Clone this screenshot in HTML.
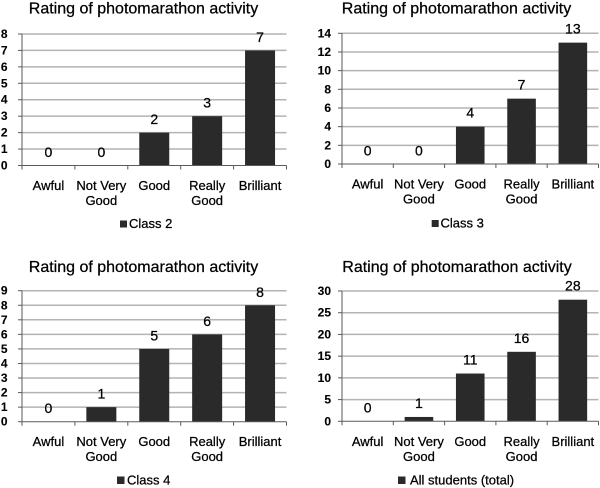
<!DOCTYPE html>
<html><head><meta charset="utf-8"><style>
html,body{margin:0;padding:0;background:#fff;}
svg{display:block;}
text{font-family:"Liberation Sans",Arial,sans-serif;fill:#000;stroke:#000;stroke-width:0.25;}
.t{font-size:16px;text-anchor:middle;}
.yl{font-size:12px;font-weight:bold;text-anchor:end;stroke-width:0.1;}
.cl{font-size:13px;text-anchor:middle;}
.vl{font-size:14px;text-anchor:middle;}
.lg{font-size:13px;}
.g{stroke:#b3b3b3;stroke-width:1.5;}
.ax{stroke:#5a5a5a;stroke-width:1;}
.b{fill:#2a2a2a;}
</style></head><body>
<svg width="600" height="488" viewBox="0 0 600 488" xmlns="http://www.w3.org/2000/svg">
<rect width="600" height="488" fill="#fff"/>

<!-- Chart A -->
<g>
<text class="t" x="143.5" y="13.5">Rating of photomarathon activity</text>
<line class="g" x1="22" y1="149.06" x2="286.5" y2="149.06"/>
<line class="g" x1="22" y1="132.62" x2="286.5" y2="132.62"/>
<line class="g" x1="22" y1="116.18" x2="286.5" y2="116.18"/>
<line class="g" x1="22" y1="99.74" x2="286.5" y2="99.74"/>
<line class="g" x1="22" y1="83.3" x2="286.5" y2="83.3"/>
<line class="g" x1="22" y1="66.86" x2="286.5" y2="66.86"/>
<line class="g" x1="22" y1="50.42" x2="286.5" y2="50.42"/>
<line class="g" x1="22" y1="33.98" x2="286.5" y2="33.98"/>
<rect class="b" x="139.25" y="132.62" width="30" height="32.88"/>
<rect class="b" x="192.15" y="116.18" width="30" height="49.32"/>
<rect class="b" x="245.05" y="50.42" width="30" height="115.08"/>
<line class="ax" x1="22" y1="33.98" x2="22" y2="165.5"/>
<line class="ax" x1="22" y1="165.5" x2="286.5" y2="165.5"/>
<g class="ax">
<line x1="18" y1="165.5" x2="22" y2="165.5"/><line x1="18" y1="149.06" x2="22" y2="149.06"/><line x1="18" y1="132.62" x2="22" y2="132.62"/><line x1="18" y1="116.18" x2="22" y2="116.18"/><line x1="18" y1="99.74" x2="22" y2="99.74"/><line x1="18" y1="83.3" x2="22" y2="83.3"/><line x1="18" y1="66.86" x2="22" y2="66.86"/><line x1="18" y1="50.42" x2="22" y2="50.42"/><line x1="18" y1="33.98" x2="22" y2="33.98"/>
<line x1="22" y1="165.5" x2="22" y2="169.5"/><line x1="74.9" y1="165.5" x2="74.9" y2="169.5"/><line x1="127.8" y1="165.5" x2="127.8" y2="169.5"/><line x1="180.7" y1="165.5" x2="180.7" y2="169.5"/><line x1="233.6" y1="165.5" x2="233.6" y2="169.5"/><line x1="286.5" y1="165.5" x2="286.5" y2="169.5"/>
</g>
<text class="yl" x="7.5" y="169.5">0</text><text class="yl" x="7.5" y="153.06">1</text><text class="yl" x="7.5" y="136.62">2</text><text class="yl" x="7.5" y="120.18">3</text><text class="yl" x="7.5" y="103.74">4</text><text class="yl" x="7.5" y="87.3">5</text><text class="yl" x="7.5" y="70.86">6</text><text class="yl" x="7.5" y="54.42">7</text><text class="yl" x="7.5" y="37.98">8</text>
<text class="vl" x="48.45" y="157">0</text><text class="vl" x="101.35" y="157">0</text><text class="vl" x="154.25" y="124.1">2</text><text class="vl" x="207.15" y="107.7">3</text><text class="vl" x="260.05" y="41.9">7</text>
<text class="cl" x="48.45" y="190">Awful</text>
<text class="cl" x="101.35" y="190">Not Very</text><text class="cl" x="101.35" y="205">Good</text>
<text class="cl" x="154.25" y="190">Good</text>
<text class="cl" x="207.15" y="190">Really</text><text class="cl" x="207.15" y="205">Good</text>
<text class="cl" x="260.05" y="190">Brilliant</text>
<rect class="b" x="120" y="220.5" width="7" height="7"/>
<text class="lg" x="129" y="228">Class 2</text>
</g>

<!-- Chart B -->
<g>
<text class="t" x="456.5" y="13.5">Rating of photomarathon activity</text>
<line class="g" x1="342" y1="145.33" x2="598.5" y2="145.33"/>
<line class="g" x1="342" y1="126.66" x2="598.5" y2="126.66"/>
<line class="g" x1="342" y1="107.99" x2="598.5" y2="107.99"/>
<line class="g" x1="342" y1="89.31" x2="598.5" y2="89.31"/>
<line class="g" x1="342" y1="70.64" x2="598.5" y2="70.64"/>
<line class="g" x1="342" y1="51.97" x2="598.5" y2="51.97"/>
<line class="g" x1="342" y1="33.3" x2="598.5" y2="33.3"/>
<rect class="b" x="455.95" y="126.66" width="28.6" height="37.34"/>
<rect class="b" x="507.25" y="98.65" width="28.6" height="65.35"/>
<rect class="b" x="558.55" y="42.63" width="28.6" height="121.37"/>
<line class="ax" x1="342" y1="33.3" x2="342" y2="164"/>
<line class="ax" x1="342" y1="164" x2="598.5" y2="164"/>
<g class="ax">
<line x1="338" y1="164" x2="342" y2="164"/><line x1="338" y1="145.33" x2="342" y2="145.33"/><line x1="338" y1="126.66" x2="342" y2="126.66"/><line x1="338" y1="107.99" x2="342" y2="107.99"/><line x1="338" y1="89.31" x2="342" y2="89.31"/><line x1="338" y1="70.64" x2="342" y2="70.64"/><line x1="338" y1="51.97" x2="342" y2="51.97"/><line x1="338" y1="33.3" x2="342" y2="33.3"/>
<line x1="342" y1="164" x2="342" y2="168"/><line x1="393.3" y1="164" x2="393.3" y2="168"/><line x1="444.6" y1="164" x2="444.6" y2="168"/><line x1="495.9" y1="164" x2="495.9" y2="168"/><line x1="547.2" y1="164" x2="547.2" y2="168"/><line x1="598.5" y1="164" x2="598.5" y2="168"/>
</g>
<text class="yl" x="331" y="168">0</text><text class="yl" x="331" y="149.33">2</text><text class="yl" x="331" y="130.66">4</text><text class="yl" x="331" y="111.99">6</text><text class="yl" x="331" y="93.31">8</text><text class="yl" x="331" y="74.64">10</text><text class="yl" x="331" y="55.97">12</text><text class="yl" x="331" y="37.3">14</text>
<text class="vl" x="367.65" y="155.5">0</text><text class="vl" x="418.95" y="155.5">0</text><text class="vl" x="470.25" y="117.66">4</text><text class="vl" x="521.55" y="89.65">7</text><text class="vl" x="572.85" y="33.63">13</text>
<text class="cl" x="367.65" y="188.5">Awful</text>
<text class="cl" x="418.95" y="188.5">Not Very</text><text class="cl" x="418.95" y="203.5">Good</text>
<text class="cl" x="470.25" y="188.5">Good</text>
<text class="cl" x="521.55" y="188.5">Really</text><text class="cl" x="521.55" y="203.5">Good</text>
<text class="cl" x="572.85" y="188.5">Brilliant</text>
<rect class="b" x="431.7" y="220" width="7" height="7"/>
<text class="lg" x="440.5" y="227.5">Class 3</text>
</g>

<!-- Chart C -->
<g>
<text class="t" x="143.5" y="272">Rating of photomarathon activity</text>
<line class="g" x1="22" y1="407.14" x2="286.5" y2="407.14"/>
<line class="g" x1="22" y1="392.59" x2="286.5" y2="392.59"/>
<line class="g" x1="22" y1="378.03" x2="286.5" y2="378.03"/>
<line class="g" x1="22" y1="363.48" x2="286.5" y2="363.48"/>
<line class="g" x1="22" y1="348.92" x2="286.5" y2="348.92"/>
<line class="g" x1="22" y1="334.37" x2="286.5" y2="334.37"/>
<line class="g" x1="22" y1="319.81" x2="286.5" y2="319.81"/>
<line class="g" x1="22" y1="305.26" x2="286.5" y2="305.26"/>
<line class="g" x1="22" y1="290.7" x2="286.5" y2="290.7"/>
<rect class="b" x="86.35" y="407.14" width="30" height="14.56"/>
<rect class="b" x="139.25" y="348.92" width="30" height="72.78"/>
<rect class="b" x="192.15" y="334.37" width="30" height="87.33"/>
<rect class="b" x="245.05" y="305.26" width="30" height="116.44"/>
<line class="ax" x1="22" y1="290.7" x2="22" y2="421.7"/>
<line class="ax" x1="22" y1="421.7" x2="286.5" y2="421.7"/>
<g class="ax">
<line x1="18" y1="421.7" x2="22" y2="421.7"/><line x1="18" y1="407.14" x2="22" y2="407.14"/><line x1="18" y1="392.59" x2="22" y2="392.59"/><line x1="18" y1="378.03" x2="22" y2="378.03"/><line x1="18" y1="363.48" x2="22" y2="363.48"/><line x1="18" y1="348.92" x2="22" y2="348.92"/><line x1="18" y1="334.37" x2="22" y2="334.37"/><line x1="18" y1="319.81" x2="22" y2="319.81"/><line x1="18" y1="305.26" x2="22" y2="305.26"/><line x1="18" y1="290.7" x2="22" y2="290.7"/>
<line x1="22" y1="421.7" x2="22" y2="425.7"/><line x1="74.9" y1="421.7" x2="74.9" y2="425.7"/><line x1="127.8" y1="421.7" x2="127.8" y2="425.7"/><line x1="180.7" y1="421.7" x2="180.7" y2="425.7"/><line x1="233.6" y1="421.7" x2="233.6" y2="425.7"/><line x1="286.5" y1="421.7" x2="286.5" y2="425.7"/>
</g>
<text class="yl" x="7.5" y="425.7">0</text><text class="yl" x="7.5" y="411.14">1</text><text class="yl" x="7.5" y="396.59">2</text><text class="yl" x="7.5" y="382.03">3</text><text class="yl" x="7.5" y="367.48">4</text><text class="yl" x="7.5" y="352.92">5</text><text class="yl" x="7.5" y="338.37">6</text><text class="yl" x="7.5" y="323.81">7</text><text class="yl" x="7.5" y="309.26">8</text><text class="yl" x="7.5" y="294.7">9</text>
<text class="vl" x="48.45" y="413.2">0</text><text class="vl" x="101.35" y="398.6">1</text><text class="vl" x="154.25" y="340.4">5</text><text class="vl" x="207.15" y="325.9">6</text><text class="vl" x="260.05" y="296.8">8</text>
<text class="cl" x="48.45" y="446">Awful</text>
<text class="cl" x="101.35" y="446">Not Very</text><text class="cl" x="101.35" y="461">Good</text>
<text class="cl" x="154.25" y="446">Good</text>
<text class="cl" x="207.15" y="446">Really</text><text class="cl" x="207.15" y="461">Good</text>
<text class="cl" x="260.05" y="446">Brilliant</text>
<rect class="b" x="117" y="476.5" width="7.5" height="7.5"/>
<text class="lg" x="127" y="484.5">Class 4</text>
</g>

<!-- Chart D -->
<g>
<text class="t" x="457" y="272">Rating of photomarathon activity</text>
<line class="g" x1="342" y1="399.58" x2="598.5" y2="399.58"/>
<line class="g" x1="342" y1="377.87" x2="598.5" y2="377.87"/>
<line class="g" x1="342" y1="356.15" x2="598.5" y2="356.15"/>
<line class="g" x1="342" y1="334.43" x2="598.5" y2="334.43"/>
<line class="g" x1="342" y1="312.72" x2="598.5" y2="312.72"/>
<line class="g" x1="342" y1="291" x2="598.5" y2="291"/>
<rect class="b" x="404.65" y="416.96" width="28.6" height="4.34"/>
<rect class="b" x="455.95" y="373.53" width="28.6" height="47.77"/>
<rect class="b" x="507.25" y="351.81" width="28.6" height="69.49"/>
<rect class="b" x="558.55" y="299.7" width="28.6" height="121.6"/>
<line class="ax" x1="342" y1="291" x2="342" y2="421.3"/>
<line class="ax" x1="342" y1="421.3" x2="598.5" y2="421.3"/>
<g class="ax">
<line x1="338" y1="421.3" x2="342" y2="421.3"/><line x1="338" y1="399.58" x2="342" y2="399.58"/><line x1="338" y1="377.87" x2="342" y2="377.87"/><line x1="338" y1="356.15" x2="342" y2="356.15"/><line x1="338" y1="334.43" x2="342" y2="334.43"/><line x1="338" y1="312.72" x2="342" y2="312.72"/><line x1="338" y1="291" x2="342" y2="291"/>
<line x1="342" y1="421.3" x2="342" y2="425.3"/><line x1="393.3" y1="421.3" x2="393.3" y2="425.3"/><line x1="444.6" y1="421.3" x2="444.6" y2="425.3"/><line x1="495.9" y1="421.3" x2="495.9" y2="425.3"/><line x1="547.2" y1="421.3" x2="547.2" y2="425.3"/><line x1="598.5" y1="421.3" x2="598.5" y2="425.3"/>
</g>
<text class="yl" x="331" y="425.3">0</text><text class="yl" x="331" y="403.58">5</text><text class="yl" x="331" y="381.87">10</text><text class="yl" x="331" y="360.15">15</text><text class="yl" x="331" y="338.43">20</text><text class="yl" x="331" y="316.72">25</text><text class="yl" x="331" y="295">30</text>
<text class="vl" x="367.65" y="412.5">0</text><text class="vl" x="418.95" y="408">1</text><text class="vl" x="470.25" y="364.5">11</text><text class="vl" x="521.55" y="342.8">16</text><text class="vl" x="572.85" y="290.7">28</text>
<text class="cl" x="367.65" y="446">Awful</text>
<text class="cl" x="418.95" y="446">Not Very</text><text class="cl" x="418.95" y="461">Good</text>
<text class="cl" x="470.25" y="446">Good</text>
<text class="cl" x="521.55" y="446">Really</text><text class="cl" x="521.55" y="461">Good</text>
<text class="cl" x="572.85" y="446">Brilliant</text>
<rect class="b" x="398" y="476.5" width="7.5" height="7.5"/>
<text class="lg" x="410" y="484.5">All students (total)</text>
</g>
</svg>
</body></html>
